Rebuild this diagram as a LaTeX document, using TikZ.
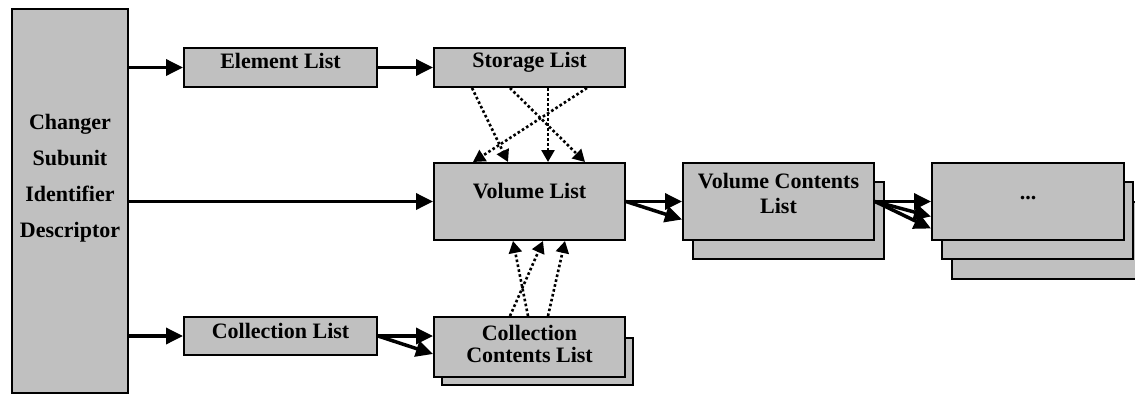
\documentclass[tikz,border=0pt]{standalone}
\usepackage{fontspec}
\setmainfont{Liberation Serif}
\usetikzlibrary{arrows.meta}
\definecolor{boxgray}{HTML}{C0C0C0}
\begin{document}
\begin{tikzpicture}[x=1pt,y=-1pt,
  box/.style={draw=black, fill=boxgray, line width=2pt, inner sep=0pt, anchor=north west},
  txt/.style={inner sep=0pt, font=\fontsize{22}{25}\selectfont\bfseries, text=black},
  arr/.style={line width=3.5pt, -{Triangle[length=17pt,width=16pt]}},
  dotarr/.style={line width=2.6pt, dash pattern=on 2.6pt off 2.4pt, -{Triangle[length=12pt,width=13pt]}}]
\useasboundingbox (0,0) rectangle (1135,394);
\clip (0,0) rectangle (1135,394);
% boxes
\node[box, minimum width=116pt, minimum height=384pt] (cs) at (11,8) {};
\node[box, minimum width=193pt, minimum height=39pt] (el) at (183,47) {};
\node[box, minimum width=191pt, minimum height=39pt] (st) at (433,47) {};
\node[box, minimum width=191pt, minimum height=77pt] (vl) at (433,162) {};
\node[box, minimum width=193pt, minimum height=38pt] (cl) at (183,316) {};
\node[box, minimum width=191pt, minimum height=47pt] (ccb) at (441,337) {};
\node[box, minimum width=191pt, minimum height=60pt] (cc) at (433,316) {};
\node[box, minimum width=191pt, minimum height=77pt] (vcb) at (692,181) {};
\node[box, minimum width=191pt, minimum height=77pt] (vc) at (682,162) {};
\node[box, minimum width=191pt, minimum height=77pt] (db2) at (951,201) {};
\node[box, minimum width=191pt, minimum height=77pt] (db1) at (941,181) {};
\node[box, minimum width=192pt, minimum height=77pt] (dt) at (931,162) {};
% texts
\node[txt, anchor=north, align=center, font=\fontsize{22}{36}\selectfont\bfseries] (cst) at ([yshift=-106.1pt]cs.north) {Changer\\Subunit\\Identifier\\Descriptor};
\node[txt, anchor=base] (elt) at ([yshift=-21pt]el.north) {Element List};
\node[txt, anchor=base] (stt) at ([yshift=-20pt]st.north) {Storage List};
\node[txt, anchor=base] (vlt) at ([yshift=-36pt]vl.north) {Volume List};
\node[txt, anchor=base] (clt) at ([yshift=-22pt]cl.north) {Collection List};
\node[txt, anchor=north, align=center, font=\fontsize{22}{22}\selectfont\bfseries] (cct) at ([yshift=-8.9pt]cc.north) {Collection\\Contents List};
\node[txt, anchor=north, align=center, font=\fontsize{22}{25}\selectfont\bfseries] (vct) at ([yshift=-10.9pt]vc.north) {Volume Contents\\List};
\node[txt, anchor=base] (dtt) at ([yshift=-37pt]dt.north) {...};
% solid arrows
\draw[arr] (cs.east |- el.west) -- (el.west);
\draw[arr] (cs.east |- vl.west) -- (vl.west);
\draw[arr] (cs.east |- cl.west) -- (cl.west);
\draw[arr] (el.east) -- (st.west);
\draw[arr] (cl.east) -- (cc.west |- cl.east);
\draw[arr] (cl.east) -- ([yshift=-18pt]cc.west |- cl.east);
\draw[arr] (vl.east) -- (vc.west);
\draw[arr] (vl.east) -- ([yshift=-18pt]vc.west);
\draw[arr] (vc.east) -- (dt.west);
\draw[arr] (vc.east) -- ([yshift=-15pt]dt.west);
\draw[arr] (vc.east) -- ([yshift=-27pt]dt.west);
% dotted arrows storage -> volume
\draw[dotarr] ([xshift=39pt]st.south west) -- ([xshift=75pt]vl.north west);
\draw[dotarr] ([xshift=77pt]st.south west) -- ([xshift=152pt]vl.north west);
\draw[dotarr] ([xshift=115pt]st.south west) -- ([xshift=115pt]vl.north west);
\draw[dotarr] ([xshift=154pt]st.south west) -- ([xshift=40pt]vl.north west);
% dotted arrows collection contents -> volume
\draw[dotarr] ([xshift=77pt]cc.north west) -- ([xshift=110pt]vl.south west);
\draw[dotarr] ([xshift=95pt]cc.north west) -- ([xshift=80pt]vl.south west);
\draw[dotarr] ([xshift=115pt]cc.north west) -- ([xshift=132pt]vl.south west);
\end{tikzpicture}
\end{document}
